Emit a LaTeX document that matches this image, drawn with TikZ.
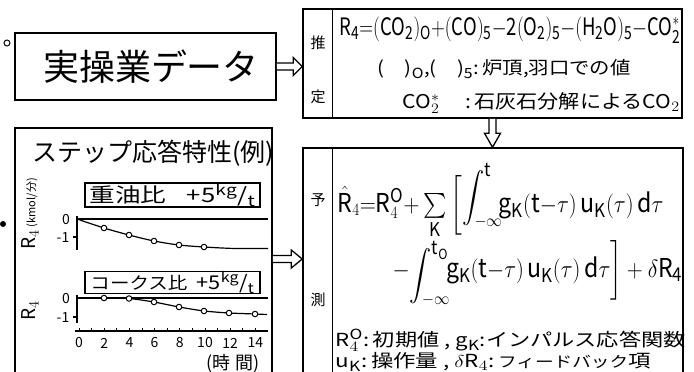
\documentclass[tikz,border=0pt]{standalone}
\usepackage{exscale}
\usepackage{fontspec}
\setmainfont{Noto Sans CJK JP}
\setmathrm{Noto Sans CJK JP}
\DeclareMathSizes{24}{24}{18}{14}
\DeclareMathSizes{26}{26}{19}{14}
\DeclareMathSizes{18}{18}{14}{10}
\DeclareMathSizes{19}{19}{14}{10}
\DeclareMathSizes{17}{17}{13}{10}
\DeclareMathSizes{20}{20}{15}{11}
\usetikzlibrary{calc}
\newcommand\fs[1]{\fontsize{#1}{#1}\selectfont}
\newcommand\hw[2]{\resizebox{#1}{\height}{#2}}
\begin{document}
\begin{tikzpicture}[x=1pt,y=-1pt,line width=1.3pt,
  box/.style={draw,line width=1.5pt,inner sep=0pt},
  txt/.style={inner sep=0pt,anchor=base west},
  ctr/.style={inner sep=0pt},
  hollow/.style={draw,line width=1.3pt,fill=white,line join=miter},
  curve/.style={line width=1.2pt},
  mk/.style={draw,fill=white,circle,inner sep=0pt,minimum size=5.5pt,line width=1pt}]
\useasboundingbox (0,0) rectangle (694,372);

% boxes
\node[box,minimum width=261pt,minimum height=67pt] (data) at (145.5,66.5) {};
\node[box,minimum width=379pt,minimum height=109pt] (est) at (492.5,63.5) {};
\node[box,minimum width=380pt,minimum height=242pt] (pred) at (493,269) {};
\node[box,minimum width=257pt,minimum height=262pt] (step) at (143.5,259) {};
\draw[line width=1.5pt] ($(est.north west)+(30,0)$) -- ($(est.south west)+(30,0)$);
\draw[line width=1.5pt] ($(pred.north west)+(30,0)$) -- ($(pred.south west)+(30,0)$);

% marks at left
\node[draw,circle,inner sep=0pt,minimum size=6pt,line width=1pt] (circ) at (7,43) {};
\node[fill,circle,inner sep=0pt,minimum size=6pt] (dot) at (3,224) {};

% hollow arrows
\draw[hollow] let \p1=(data.east), \p2=(est.west) in
  (\x1,\y1+3.5pt) -- (\x2-9pt,\y1+3.5pt) -- (\x2-9pt,\y1+9pt) -- (\x2,\y1)
  -- (\x2-9pt,\y1-9pt) -- (\x2-9pt,\y1-3.5pt) -- (\x1,\y1-3.5pt);
\draw[hollow] let \p1=(step.east), \p2=(pred.west) in
  (\x1,\y1+3.5pt) -- (\x2-11pt,\y1+3.5pt) -- (\x2-11pt,\y1+9pt) -- (\x2,\y1)
  -- (\x2-11pt,\y1-9pt) -- (\x2-11pt,\y1-3.5pt) -- (\x1,\y1-3.5pt);
\draw[hollow] let \p1=(est.south), \p2=(pred.north) in
  (\x1-3.5pt,\y1) -- (\x1-3.5pt,\y2+14pt) -- (\x1-8pt,\y2+14pt) -- (\x1,\y2)
  -- (\x1+8pt,\y2+14pt) -- (\x1+3.5pt,\y2+14pt) -- (\x1+3.5pt,\y1);

% texts top
\node[ctr,font=\fs{36}] (datatxt) at (151,67) {実操業データ};
\node[ctr,font=\fs{15}] (sui) at (318,43) {推};
\node[ctr,font=\fs{15}] (tei) at (318,97) {定};
\node[txt,font=\fs{24}] (f1) at (339,35) {\hw{341pt}{$\mathrm{R_4{=}(CO_2)_O{+}(CO)_5{-}2(O_2)_5{-}(H_2O)_5{-}CO_2^{\ast}}$}};
\node[txt,font=\fs{18}] (f2) at (377,74) {\hw{253pt}{(\hspace{1em})$_{\mathrm{O}}$,(\hspace{1em})$_{\mathrm{5}}$:\,炉頂,羽口での値}};
\node[txt,font=\fs{19}] (f3) at (402,108) {\hw{277pt}{CO$_2^{\ast}$\hspace{1.2em}:\,石灰石分解によるCO$_2$}};

% prediction
\node[ctr,font=\fs{15}] (yo) at (318,200) {予};
\node[ctr,font=\fs{15}] (soku) at (318,300) {測};
\node[txt,font=\fs{26}] (g1) at (337,212) {\hw{326pt}{$\hat{\mathrm{R}}_4{=}\mathrm{R}_4^{\mathrm{O}}{+}\textstyle\sum\limits_{\mathrm{K}}\displaystyle\,\biggl[\raisebox{8pt}{$\displaystyle\int_{-\infty}^{\mathrm{t}}$}\!\mathrm{g_K(t{-}}\tau\mathrm{)\,u_K(}\tau\mathrm{)\,d}\tau$}};
\node[txt,font=\fs{26}] (g2) at (392,277) {\hw{290pt}{$-\raisebox{-5pt}{$\displaystyle\int_{-\infty}^{\mathrm{t_O}}$}\!\mathrm{g_K(t{-}}\tau\mathrm{)\,u_K(}\tau\mathrm{)\,d}\tau\biggr]+\delta\mathrm{R_4}$}};
\node[txt,font=\fs{18}] (g3) at (335,346) {\hw{350pt}{R$_4^{\mathrm{O}}$:\,初期値\ ,\ g$_{\mathrm{K}}$:インパルス応答関数}};
\node[txt,font=\fs{18}] (g4) at (335,367) {\hw{315pt}{u$_{\mathrm{K}}$:\,操作量\ ,\ $\delta$R$_4$:\,{\fs{15}フィードバック}項}};

% step panel
\node[ctr,font=\fs{25}] (title) at (153,153) {ステップ応答特性(例)};
\node[box,line width=1.3pt,minimum width=175pt,minimum height=24pt,font=\fs{20}] (oil) at (172.5,195) {\hw{166pt}{重油比\hspace{16pt}+5$^{\mathrm{kg}}$/$_{\mathrm{t}}$}};
\node[box,line width=1.3pt,minimum width=175pt,minimum height=22pt,font=\fs{19}] (coke) at (172.5,282.5) {\hw{164pt}{{\fs{17}コークス比}\hspace{8pt}+5$^{\mathrm{kg}}$/$_{\mathrm{t}}$}};
\node[ctr,rotate=90,font=\fs{19}] (ylab1) at (30,214) {R$_4$\,{\fs{11}(kmol/分)}};
\node[ctr,rotate=90,font=\fs{19}] (ylab2) at (30,311) {R$_4$};
\node[ctr,font=\fs{14}] (z1) at (66,220) {0};
\node[ctr,font=\fs{14}] (m1) at (63,238) {-1};
\node[ctr,font=\fs{14}] (z2) at (66,299) {0};
\node[ctr,font=\fs{14}] (m2) at (63,318) {-1};

% axes
\draw (77,216) -- (77,250);
\draw (77,219) -- (268,219);
\draw (73,237) -- (77,237);
\draw (77,295) -- (77,323);
\draw (77,298) -- (268,298);
\draw (73,317) -- (77,317);
\draw (75,331) -- (268,331);
\foreach \t in {0,...,14} {\draw[line width=1pt] (79+12.6*\t,328) -- (79+12.6*\t,331);}
\foreach \t in {0,2,...,14} {\node[ctr,font=\fs{14}] (xl\t) at (79+12.6*\t,343) {\t};}
\node[ctr,font=\fs{18}] (jikan) at (233,364) {(時\ 間)};

% curves
\draw[curve] plot[smooth,tension=0.5] coordinates {(77,219) (104,228) (129,235) (154,241) (179,245) (204,247) (235,248.5) (268,248.5)};
\foreach \x/\y [count=\i] in {104/228,129/235,154/241,179/245,204/247} {\node[mk] (pa\i) at (\x,\y) {};}
\draw[curve] plot[smooth,tension=0.4] coordinates {(77,298) (104,298) (129,298.5) (154,302) (179,307) (204,311) (229,313) (255,314) (267,314.5)};
\foreach \x/\y [count=\i] in {104/298,129/298.5,154/302,179/307,204/311,229/313,255/314} {\node[mk] (pb\i) at (\x,\y) {};}
\end{tikzpicture}
\end{document}
